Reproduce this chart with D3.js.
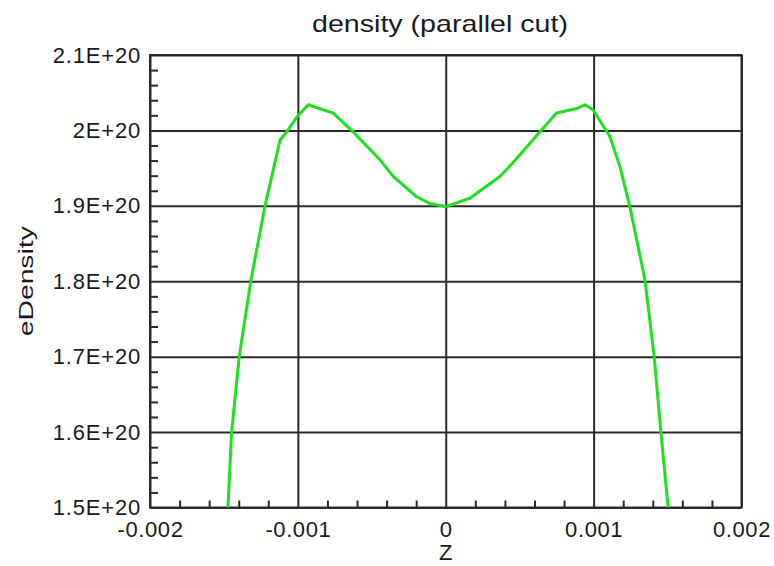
<!DOCTYPE html>
<html>
<head>
<meta charset="utf-8">
<script src="https://cdn.jsdelivr.net/npm/d3@7"></script>
<style>
  html, body { margin: 0; padding: 0; background: #fff; }
  svg { display: block; }
  text { font-family: "Liberation Sans", Arial, Helvetica, sans-serif; fill: #1a1a1a; }
</style>
</head>
<body>
<svg id="chart" width="774" height="566"></svg>
<script>
// ---- data ----
const zValues = [-0.001473, -0.001448, -0.001396, -0.001317, -0.001223, -0.001121, -0.001065, -0.001006, -0.00093,
  -0.000761, -0.000626, -0.000445, -0.000355, -0.000197, -0.000107, 0.0, 0.000163, 0.000366, 0.000454,
  0.000636, 0.000749, 0.000885, 0.000941, 0.000997, 0.00111, 0.001178, 0.001245, 0.001347, 0.001409, 0.001455, 0.001504];
const densityValues = [1.500e20, 1.600e20, 1.701e20, 1.802e20, 1.899e20, 1.987e20, 2.001e20, 2.018e20, 2.034e20,
  2.023e20, 1.998e20, 1.961e20, 1.939e20, 1.912e20, 1.903e20, 1.899e20, 1.910e20, 1.939e20, 1.957e20,
  1.998e20, 2.023e20, 2.029e20, 2.034e20, 2.027e20, 1.992e20, 1.952e20, 1.899e20, 1.802e20, 1.701e20, 1.600e20, 1.500e20];
const xTickValues = [-0.002, -0.001, 0, 0.001, 0.002];
const xTickLabels = ["-0.002", "-0.001", "0", "0.001", "0.002"];
const yTickValues = [1.5e20, 1.6e20, 1.7e20, 1.8e20, 1.9e20, 2.0e20, 2.1e20];
const yTickLabels = ["1.5E+20", "1.6E+20", "1.7E+20", "1.8E+20", "1.9E+20", "2E+20", "2.1E+20"];
const titleText = "density (parallel cut)";
const xAxisTitle = "Z";
const yAxisTitle = "eDensity";

// ---- layout ----
const pL = 150, pR = 741.5, pT = 55, pB = 507.5;
const W = pR - pL, H = pB - pT;
const svg = d3.select("#chart");

const x = d3.scaleLinear().domain([-0.002, 0.002]).range([pL, pR]);
const y = d3.scaleLinear().domain([1.5e20, 2.1e20]).range([pB, pT]);

const gridColor = "#2a2a2a";
const fontFam = '"Liberation Sans", Arial, sans-serif';

// minor ticks (5 subdivisions between majors)
const xMinor = d3.range(0, 21).map(i => -0.002 + i * 0.0002).filter((v, i) => i % 5 !== 0);
const yMinor = d3.range(0, 31).map(i => 1.5e20 + i * 0.02e20).filter((v, i) => i % 5 !== 0);

// X minor ticks
svg.append("g").attr("transform", `translate(0,${pB})`)
  .call(d3.axisBottom(x).tickValues(xMinor).tickSize(-7).tickFormat(""))
  .call(g => g.select(".domain").remove())
  .call(g => g.selectAll("line").attr("stroke", gridColor).attr("stroke-width", 2));

// Y minor ticks
svg.append("g").attr("transform", `translate(${pL},0)`)
  .call(d3.axisLeft(y).tickValues(yMinor).tickSize(-8).tickFormat(""))
  .call(g => g.select(".domain").remove())
  .call(g => g.selectAll("line").attr("stroke", gridColor).attr("stroke-width", 2));

// X major grid + labels
svg.append("g").attr("transform", `translate(0,${pB})`)
  .call(d3.axisBottom(x).tickValues(xTickValues).tickSize(-H).tickPadding(13.5)
    .tickFormat((d, i) => xTickLabels[i]))
  .call(g => g.select(".domain").remove())
  .call(g => g.selectAll("line").attr("stroke", gridColor).attr("stroke-width", 2))
  .call(g => g.selectAll("text").attr("font-size", 22).attr("fill", "#1a1a1a")
    .attr("font-family", fontFam).attr("letter-spacing", 0.6));

// Y major grid + labels
svg.append("g").attr("transform", `translate(${pL},0)`)
  .call(d3.axisLeft(y).tickValues(yTickValues).tickSize(-W).tickPadding(9)
    .tickFormat((d, i) => yTickLabels[i]))
  .call(g => g.select(".domain").remove())
  .call(g => g.selectAll("line").attr("stroke", gridColor).attr("stroke-width", 2))
  .call(g => g.selectAll("text").attr("font-size", 22).attr("fill", "#1a1a1a")
    .attr("font-family", fontFam).attr("letter-spacing", 0.8));

// frame
svg.append("rect").attr("x", pL).attr("y", pT).attr("width", W).attr("height", H)
  .attr("fill", "none").attr("stroke", gridColor).attr("stroke-width", 2);

// curve
const pts = zValues.map((z, i) => [z, densityValues[i]]);
svg.append("clipPath").attr("id", "plotclip").append("rect")
  .attr("x", pL).attr("y", pT - 5).attr("width", W).attr("height", H + 5);
svg.append("path").datum(pts)
  .attr("clip-path", "url(#plotclip)")
  .attr("fill", "none").attr("stroke", "#1fe01f").attr("stroke-width", 3)
  .attr("stroke-linejoin", "round")
  .attr("d", d3.line().x(d => x(d[0])).y(d => y(d[1])));

// title
svg.append("text").attr("x", 440).attr("y", 32).attr("text-anchor", "middle")
  .attr("font-size", 24).attr("textLength", 256).attr("lengthAdjust", "spacingAndGlyphs")
  .text(titleText);

// axis titles
svg.append("text").attr("x", (pL + pR) / 2).attr("y", 560).attr("text-anchor", "middle")
  .attr("font-size", 22).text(xAxisTitle);

svg.append("text").attr("transform", `translate(33,${(pT + pB) / 2}) rotate(-90)`)
  .attr("text-anchor", "middle").attr("font-size", 21)
  .attr("textLength", 110).attr("lengthAdjust", "spacingAndGlyphs")
  .text(yAxisTitle);
</script>
</body>
</html>
